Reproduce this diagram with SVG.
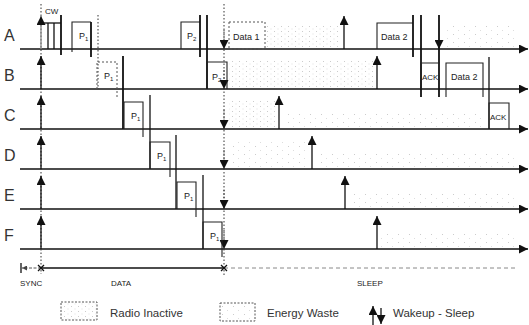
<svg xmlns="http://www.w3.org/2000/svg" width="529" height="325" viewBox="0 0 529 325">
<style>
text{font-family:"Liberation Sans",Arial,sans-serif;fill:#222}
.lab{font-size:16px;fill:#333}
.sm{font-size:9px}
.xs{font-size:8px}
.leg{font-size:11.5px;fill:#333}
.base{stroke:#111;stroke-width:1.6;fill:none}
.ln{stroke:#111;stroke-width:1.3;fill:none}
.thk{stroke:#111;stroke-width:1.8;fill:none}
.box{stroke:#222;stroke-width:1.1;fill:none}
.dsh{stroke:#555;stroke-width:1;stroke-dasharray:2 2;fill:none}
.dot{stroke:#333;stroke-width:1;stroke-dasharray:1.5 2;fill:none}
.up{stroke:#111;stroke-width:1.3;fill:none}
.g{stroke:#888;stroke-width:1.3;fill:none}
</style>
<defs>
<marker id="ah" viewBox="0 0 10 10" refX="10" refY="5" markerWidth="10" markerHeight="9" markerUnits="userSpaceOnUse" orient="auto">
<path d="M0,0 L10,5 L0,10 z" fill="#111"/>
</marker>
<marker id="sah" viewBox="0 0 10 10" refX="10" refY="5" markerWidth="5" markerHeight="5" markerUnits="userSpaceOnUse" orient="auto">
<path d="M0,0 L10,5 L0,10 z" fill="#444"/>
</marker>
<pattern id="inact" width="7" height="5" patternUnits="userSpaceOnUse">
<rect x="1" y="1" width="1" height="1" fill="#ccc"/>
<rect x="4.5" y="3.5" width="1" height="1" fill="#ddd"/>
</pattern>
<pattern id="waste" width="11" height="8" patternUnits="userSpaceOnUse">
<rect x="2" y="2" width="1" height="1" fill="#ccc"/>
<rect x="7" y="6" width="1" height="1" fill="#ddd"/>
</pattern>
</defs>

<!-- shaded regions -->
<g id="regions">
<rect x="266" y="25" width="74" height="23" fill="url(#inact)"/>
<rect x="446" y="26" width="72" height="22" fill="url(#waste)"/>
<rect x="229" y="60" width="145" height="28" fill="url(#inact)"/>
<rect x="229" y="100" width="46" height="28" fill="url(#inact)"/>
<rect x="283" y="114" width="200" height="14" fill="url(#waste)"/>
<rect x="229" y="140" width="78" height="28" fill="url(#waste)"/>
<rect x="316" y="154" width="202" height="14" fill="url(#waste)"/>
<rect x="349" y="194" width="169" height="14" fill="url(#waste)"/>
<rect x="381" y="234" width="137" height="14" fill="url(#waste)"/>
</g>

<!-- connectors / time lines -->
<g id="connectors">
<line class="base" x1="20" y1="49" x2="528" y2="49" marker-end="url(#ah)"/>
<line class="base" x1="20" y1="89" x2="528" y2="89" marker-end="url(#ah)"/>
<line class="base" x1="20" y1="129" x2="528" y2="129" marker-end="url(#ah)"/>
<line class="base" x1="20" y1="169" x2="528" y2="169" marker-end="url(#ah)"/>
<line class="base" x1="20" y1="209" x2="528" y2="209" marker-end="url(#ah)"/>
<line class="base" x1="20" y1="249" x2="528" y2="249" marker-end="url(#ah)"/>
<!-- dotted sync/sleep guides -->
<line class="dot" x1="41" y1="4" x2="41" y2="274"/>
<line class="dot" x1="224" y1="4" x2="224" y2="277"/>
<!-- sync wakeups -->
<line class="g" x1="41" y1="49" x2="41" y2="16" marker-end="url(#ah)"/>
<line class="up" x1="41" y1="89" x2="41" y2="56" marker-end="url(#ah)"/>
<line class="up" x1="41" y1="129" x2="41" y2="96" marker-end="url(#ah)"/>
<line class="up" x1="41" y1="169" x2="41" y2="136" marker-end="url(#ah)"/>
<line class="up" x1="41" y1="209" x2="41" y2="176" marker-end="url(#ah)"/>
<line class="up" x1="41" y1="249" x2="41" y2="216" marker-end="url(#ah)"/>
<!-- sleeps at 224 -->
<line class="dot" x1="224" y1="30" x2="224" y2="49" marker-end="url(#ah)"/>
<line class="dot" x1="224" y1="70" x2="224" y2="89" marker-end="url(#ah)"/>
<line class="dot" x1="224" y1="110" x2="224" y2="129" marker-end="url(#ah)"/>
<line class="dot" x1="224" y1="150" x2="224" y2="169" marker-end="url(#ah)"/>
<line class="dot" x1="224" y1="190" x2="224" y2="209" marker-end="url(#ah)"/>
<line class="dot" x1="224" y1="230" x2="224" y2="249" marker-end="url(#ah)"/>
<!-- later wakeups -->
<line class="up" x1="344" y1="49" x2="344" y2="16" marker-end="url(#ah)"/>
<line class="up" x1="377" y1="89" x2="377" y2="56" marker-end="url(#ah)"/>
<line class="up" x1="279" y1="129" x2="279" y2="96" marker-end="url(#ah)"/>
<line class="up" x1="312" y1="169" x2="312" y2="136" marker-end="url(#ah)"/>
<line class="up" x1="345" y1="209" x2="345" y2="176" marker-end="url(#ah)"/>
<line class="up" x1="377" y1="249" x2="377" y2="216" marker-end="url(#ah)"/>
<!-- A sleep after data 2 -->
<line class="thk" x1="439" y1="15" x2="439" y2="49" marker-end="url(#ah)"/>
<line class="thk" x1="439" y1="49" x2="439" y2="97"/>
<!-- axis -->
<line class="ln" x1="21" y1="263" x2="21" y2="273"/>
<line stroke="#555" stroke-width="1" stroke-dasharray="3 1.5" x1="41" y1="268" x2="22" y2="268" marker-end="url(#sah)"/>
<line class="ln" x1="41" y1="268" x2="224" y2="268"/>
<line stroke="#888" stroke-width="1" stroke-dasharray="4 3" x1="224" y1="268" x2="515" y2="268"/>
<path class="ln" d="M38,265 L44,271 M44,265 L38,271"/>
<path class="ln" d="M221,265 L227,271 M227,265 L221,271"/>
</g>

<g id="labels">
<text class="lab" x="4" y="41">A</text>
<text class="lab" x="4" y="81">B</text>
<text class="lab" x="4" y="121">C</text>
<text class="lab" x="4" y="161">D</text>
<text class="lab" x="4" y="201">E</text>
<text class="lab" x="4" y="241">F</text>
<text class="xs" x="20" y="286">SYNC</text>
<text class="xs" x="111" y="286">DATA</text>
<text class="xs" x="357" y="286">SLEEP</text>
</g>

<g id="node-A-cw">
<path class="ln" d="M41,23 H61"/>
<line class="ln" x1="48" y1="23" x2="48" y2="49"/>
<line class="ln" x1="54" y1="23" x2="54" y2="49"/>
<line class="thk" x1="61" y1="15" x2="61" y2="55"/>
<text class="xs" x="45" y="14">CW</text>
</g>

<g id="node-A-p1">
<path class="box" d="M72,52 V22 H91"/>
<line class="thk" x1="91" y1="22" x2="91" y2="57"/>
<line class="dot" x1="98" y1="15" x2="98" y2="89"/>
<text class="sm" x="79" y="39">P<tspan font-size="6" dy="2">1</tspan></text>
</g>

<g id="node-A-p2">
<path class="box" d="M181,49 V22 H200"/>
<line class="thk" x1="200" y1="15" x2="200" y2="57"/>
<line class="thk" x1="207" y1="15" x2="207" y2="89"/>
<text class="sm" x="187" y="39">P<tspan font-size="6" dy="2">2</tspan></text>
</g>

<g id="node-A-data1">
<rect class="dsh" x="229" y="22" width="36" height="27"/>
<text class="sm" x="233" y="40">Data 1</text>
</g>

<g id="node-A-data2">
<path class="box" d="M377,49 V23 H413"/>
<line class="thk" x1="413" y1="15" x2="413" y2="57"/>
<line class="thk" x1="421" y1="15" x2="421" y2="97"/>
<text class="sm" x="381" y="40">Data 2</text>
</g>

<g id="node-B-p1">
<path class="dsh" d="M97,89 V62 H117 V97"/>
<line class="thk" x1="123" y1="56" x2="123" y2="129"/>
<text class="sm" x="104" y="79">P<tspan font-size="6" dy="2">1</tspan></text>
</g>

<g id="node-B-p2">
<path class="box" d="M207,89 V62 H227 V89"/>
<text class="sm" x="212" y="80">P<tspan font-size="6" dy="2">2</tspan></text>
</g>

<g id="node-B-ack">
<path class="box" d="M421,89 V63 H440"/>
<text class="xs" x="422" y="80">ACK</text>
</g>

<g id="node-B-data2">
<path class="box" d="M446,97 V63 H483 V97"/>
<line class="ln" x1="489" y1="57" x2="489" y2="129"/>
<text class="sm" x="451" y="80">Data 2</text>
</g>

<g id="node-C-p1">
<path class="box" d="M124,129 V102 H143 V137"/>
<line class="ln" x1="150" y1="95" x2="150" y2="169"/>
<text class="sm" x="131" y="119">P<tspan font-size="6" dy="2">1</tspan></text>
</g>

<g id="node-C-ack">
<path class="box" d="M489,129 V103 H509 V129"/>
<text class="xs" x="490" y="120">ACK</text>
</g>

<g id="node-D-p1">
<path class="box" d="M150,169 V142 H170 V177"/>
<line class="ln" x1="176" y1="135" x2="176" y2="209"/>
<text class="sm" x="157" y="159">P<tspan font-size="6" dy="2">1</tspan></text>
</g>

<g id="node-E-p1">
<path class="box" d="M177,209 V182 H196 V217"/>
<line class="ln" x1="203" y1="175" x2="203" y2="249"/>
<text class="sm" x="184" y="199">P<tspan font-size="6" dy="2">1</tspan></text>
</g>

<g id="node-F-p1">
<path class="box" d="M203,249 V222 H222 V257"/>
<text class="sm" x="210" y="239">P<tspan font-size="6" dy="2">1</tspan></text>
</g>

<g id="legend">
<rect x="61" y="302" width="36" height="18" fill="url(#inact)" stroke="#555" stroke-width="1" stroke-dasharray="2 1.5"/>
<text class="leg" x="110" y="317">Radio Inactive</text>
<rect x="220" y="303" width="35" height="18" fill="url(#waste)" stroke="#555" stroke-width="1" stroke-dasharray="2 1.5"/>
<text class="leg" x="267" y="317">Energy Waste</text>
<line class="up" x1="373" y1="325" x2="373" y2="306" marker-end="url(#ah)"/>
<line class="up" x1="381" y1="308" x2="381" y2="324" marker-end="url(#ah)"/>
<text class="leg" x="393" y="317">Wakeup - Sleep</text>
</g>
</svg>
